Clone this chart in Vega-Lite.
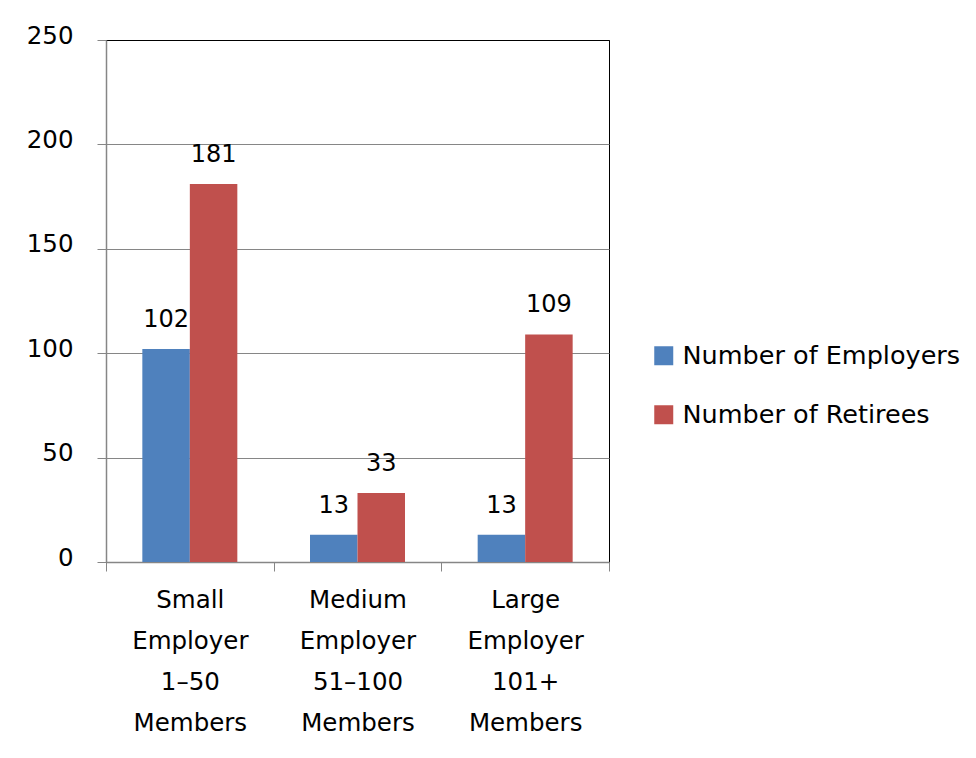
{
  "$schema": "https://vega.github.io/schema/vega-lite/v6.json",
  "autosize": {"type": "none"},
  "width": 503,
  "height": 522,
  "padding": {"left": 106, "top": 40, "right": 367, "bottom": 196},
  "background": "white",
  "data": {
    "values": [
      {"group": "Small Employer 1–50 Members", "series": "Number of Employers", "count": 102},
      {"group": "Small Employer 1–50 Members", "series": "Number of Retirees", "count": 181},
      {"group": "Medium Employer 51–100 Members", "series": "Number of Employers", "count": 13},
      {"group": "Medium Employer 51–100 Members", "series": "Number of Retirees", "count": 33},
      {"group": "Large Employer 101+ Members", "series": "Number of Employers", "count": 13},
      {"group": "Large Employer 101+ Members", "series": "Number of Retirees", "count": 109}
    ]
  },
  "encoding": {
    "x": {
      "field": "group",
      "type": "nominal",
      "sort": null,
      "scale": {"paddingInner": 0, "paddingOuter": 0},
      "axis": {
        "title": null,
        "labelAngle": 0,
        "labelExpr": "split(datum.label, ' ')",
        "labelLineHeight": 41,
        "labelPadding": 17,
        "tickBand": "extent",
        "tickSize": 9,
        "grid": false
      }
    },
    "xOffset": {
      "field": "series",
      "type": "nominal",
      "sort": ["Number of Employers", "Number of Retirees"],
      "scale": {"paddingInner": 0, "paddingOuter": 0.765}
    },
    "y": {
      "field": "count",
      "type": "quantitative",
      "scale": {"domain": [0, 250], "nice": false},
      "axis": {
        "title": null,
        "values": [0, 50, 100, 150, 200, 250],
        "tickSize": 9,
        "labelPadding": 24,
        "labelOffset": -4,
        "grid": true,
        "gridColor": {"condition": {"test": "datum.value === 250", "value": "#000000"}, "value": "#868686"}
      }
    }
  },
  "layer": [
    {
      "mark": {"type": "bar"},
      "encoding": {
        "color": {
          "field": "series",
          "type": "nominal",
          "sort": ["Number of Employers", "Number of Retirees"],
          "scale": {"range": ["#4F81BD", "#C0504D"]},
          "legend": {
            "title": null,
            "orient": "none",
            "legendX": 545,
            "legendY": 303,
            "symbolType": "square",
            "symbolSize": 361,
            "symbolStrokeWidth": 0,
            "labelOffset": 6,
            "rowPadding": 32,
            "labelFontSize": 25.5,
            "labelLimit": 400
          }
        }
      }
    },
    {
      "mark": {"type": "text", "baseline": "alphabetic", "dy": -22, "fontSize": 24, "color": "#000000"},
      "encoding": {"text": {"field": "count", "type": "quantitative"}}
    }
  ],
  "config": {
    "font": "DejaVu Sans",
    "view": {"stroke": "#000000", "strokeWidth": 1},
    "axis": {
      "domainColor": "#868686",
      "tickColor": "#868686",
      "labelColor": "#000000",
      "labelFontSize": 24.5,
      "labelFont": "DejaVu Sans",
      "gridWidth": 1,
      "domainWidth": 1.5
    },
    "legend": {"labelFont": "DejaVu Sans", "labelColor": "#000000"}
  }
}
